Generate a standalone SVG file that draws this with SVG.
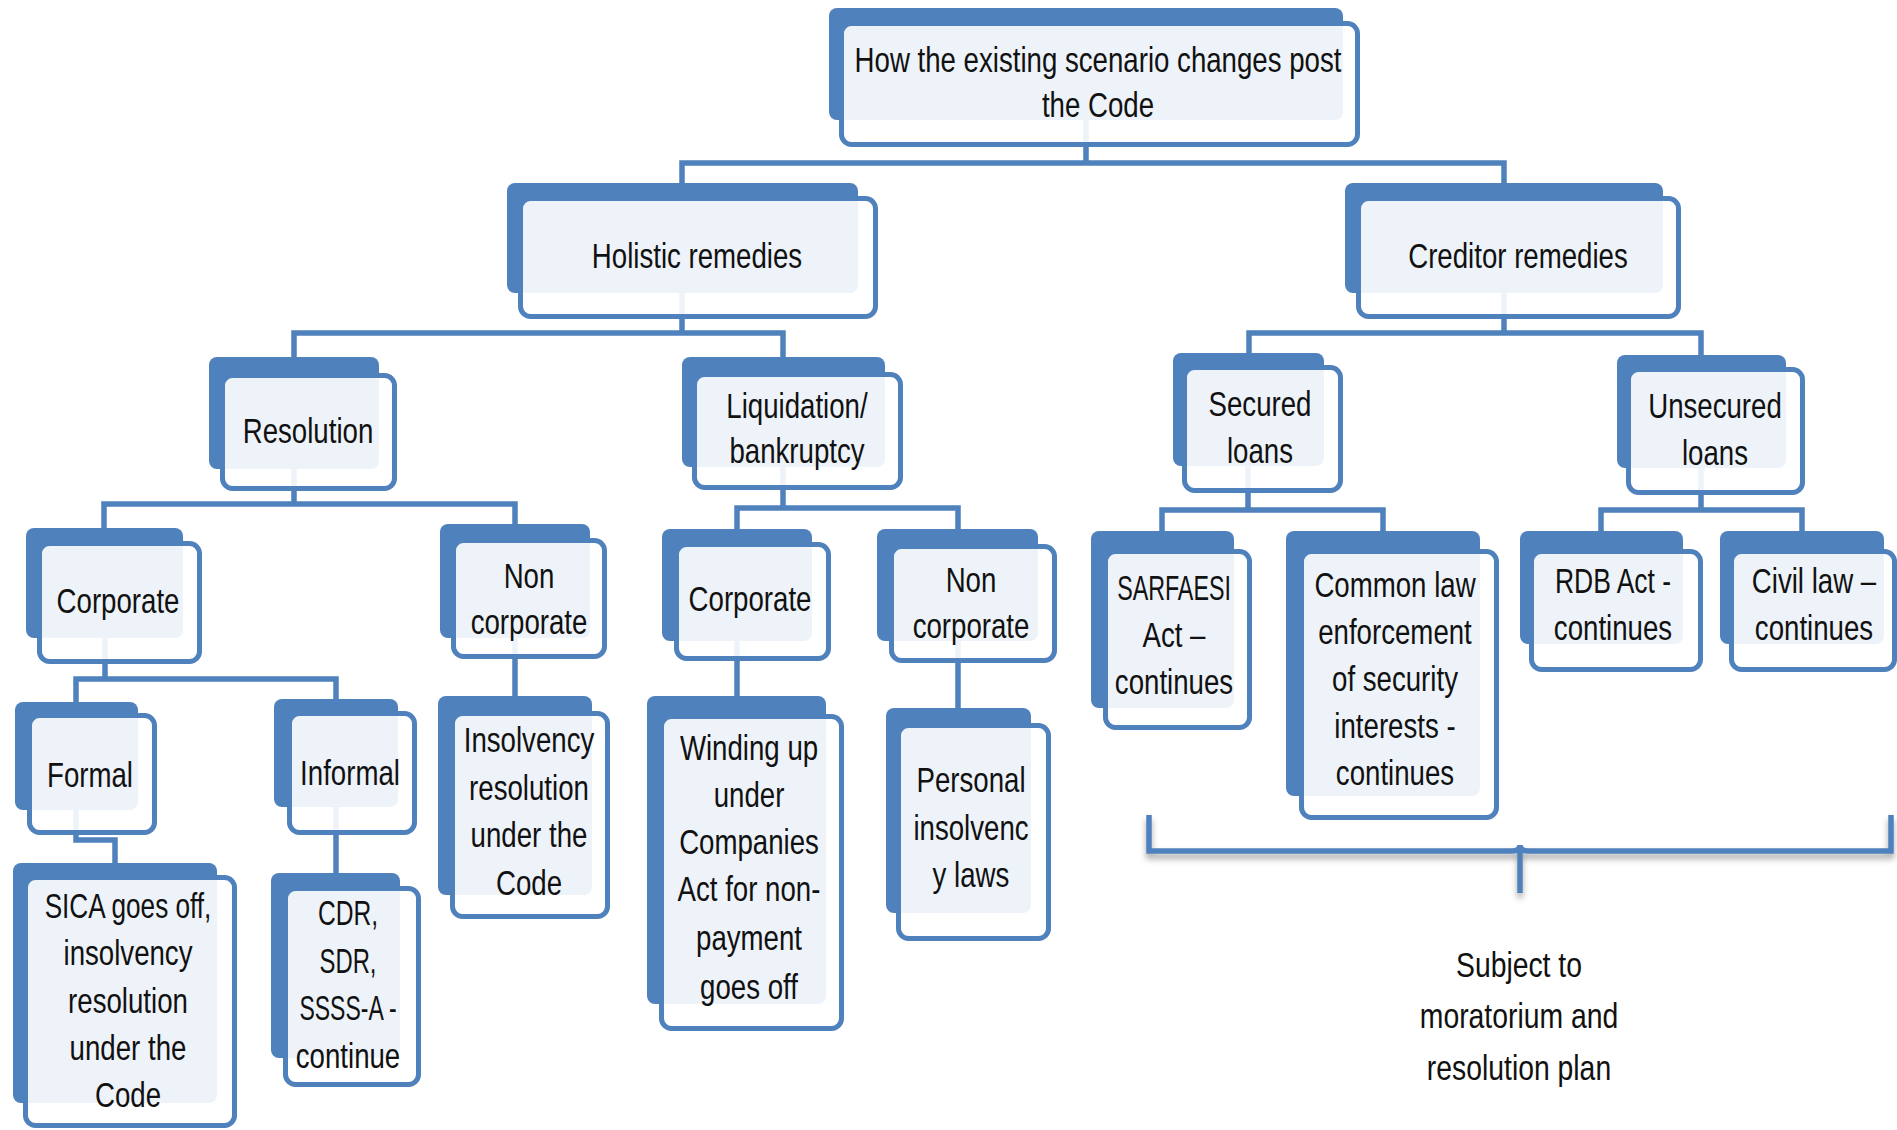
<svg xmlns="http://www.w3.org/2000/svg" width="1897" height="1130" viewBox="0 0 1897 1130">
  <style>
    .back { fill: #4F81BD; }
    .front { fill: #ffffff; fill-opacity: 0.9; stroke: #4F81BD; stroke-width: 5; }
    .link { fill: none; stroke: #4F81BD; stroke-width: 5.5; stroke-linejoin: miter; }
    .t { font-family: "Liberation Sans", Arial, sans-serif; font-size: 35px; fill: #111; text-anchor: middle; }
  </style>
  <defs>
    <filter id="soft" x="-5%" y="-20%" width="110%" height="160%">
      <feGaussianBlur in="SourceAlpha" stdDeviation="3"/>
      <feOffset dy="5" result="b"/>
      <feFlood flood-color="#000" flood-opacity="0.35"/>
      <feComposite in2="b" operator="in"/>
      <feMerge><feMergeNode/><feMergeNode in="SourceGraphic"/></feMerge>
    </filter>
  </defs>
  <rect width="1897" height="1130" fill="#ffffff"/>

  <!-- tree links: each starts at the parent's back-plate centre -->
  <g id="connectors" class="link">
    <path d="M1086 120V163"/>
    <path d="M682 183V163H1504V183"/>
    <path d="M682 293V333"/>
    <path d="M294 357V333H783V357"/>
    <path d="M1504 293V333"/>
    <path d="M1249 353V333H1701V355"/>
    <path d="M294 469V504"/>
    <path d="M104 528V504H515V524"/>
    <path d="M783 467V508"/>
    <path d="M737 529V508H958V529"/>
    <path d="M1248 466V510"/>
    <path d="M1162 531V510H1383V531"/>
    <path d="M1701 468V510"/>
    <path d="M1601 531V510H1802V531"/>
    <path d="M105 638V679"/>
    <path d="M76 702V679H336V699"/>
    <path d="M515 638V696"/>
    <path d="M737 641V696"/>
    <path d="M958 641V708"/>
    <path d="M76 810V840H115V863"/>
    <path d="M336 807V873"/>
  </g>

  <g id="n-root">
    <rect class="back" x="829" y="8" width="514" height="112" rx="8"/>
    <rect class="front" x="841.5" y="23.5" width="516" height="121" rx="10"/>
    <text class="t" transform="translate(1098 0) scale(0.79 1)"><tspan x="0" y="72">How the existing scenario changes post</tspan><tspan x="0" y="117">the Code</tspan></text>
  </g>

  <g id="n-holistic">
    <rect class="back" x="507" y="183" width="351" height="110" rx="8"/>
    <rect class="front" x="520.5" y="198.5" width="355" height="118" rx="10"/>
    <text class="t" transform="translate(697 0) scale(0.79 1)"><tspan x="0" y="268">Holistic remedies</tspan></text>
  </g>

  <g id="n-creditor">
    <rect class="back" x="1345" y="183" width="318" height="110" rx="8"/>
    <rect class="front" x="1358.5" y="198.5" width="320" height="118" rx="10"/>
    <text class="t" transform="translate(1518 0) scale(0.79 1)"><tspan x="0" y="268">Creditor remedies</tspan></text>
  </g>

  <g id="n-resolution">
    <rect class="back" x="209" y="357" width="170" height="112" rx="8"/>
    <rect class="front" x="222.5" y="375.5" width="172" height="113" rx="10"/>
    <text class="t" transform="translate(308 0) scale(0.79 1)"><tspan x="0" y="443">Resolution</tspan></text>
  </g>

  <g id="n-liquidation">
    <rect class="back" x="682" y="357" width="203" height="110" rx="8"/>
    <rect class="front" x="694.5" y="374.5" width="206" height="113" rx="10"/>
    <text class="t" transform="translate(797 0) scale(0.79 1)"><tspan x="0" y="418">Liquidation/</tspan><tspan x="0" y="463">bankruptcy</tspan></text>
  </g>

  <g id="n-secured">
    <rect class="back" x="1173" y="353" width="151" height="113" rx="8"/>
    <rect class="front" x="1184.5" y="367.5" width="156" height="123" rx="10"/>
    <text class="t" transform="translate(1260 0) scale(0.79 1)"><tspan x="0" y="416">Secured</tspan><tspan x="0" y="463">loans</tspan></text>
  </g>

  <g id="n-unsecured">
    <rect class="back" x="1617" y="355" width="169" height="113" rx="8"/>
    <rect class="front" x="1628.5" y="369.5" width="174" height="123" rx="10"/>
    <text class="t" transform="translate(1715 0) scale(0.79 1)"><tspan x="0" y="418">Unsecured</tspan><tspan x="0" y="465">loans</tspan></text>
  </g>

  <g id="n-res-corporate">
    <rect class="back" x="26" y="528" width="157" height="110" rx="8"/>
    <rect class="front" x="39.5" y="543.5" width="160" height="118" rx="10"/>
    <text class="t" transform="translate(118 0) scale(0.79 1)"><tspan x="0" y="613">Corporate</tspan></text>
  </g>

  <g id="n-res-noncorporate">
    <rect class="back" x="440" y="524" width="150" height="114" rx="8"/>
    <rect class="front" x="453.5" y="540.5" width="151" height="116" rx="10"/>
    <text class="t" transform="translate(529 0) scale(0.79 1)"><tspan x="0" y="588">Non</tspan><tspan x="0" y="634">corporate</tspan></text>
  </g>

  <g id="n-liq-corporate">
    <rect class="back" x="662" y="529" width="150" height="112" rx="8"/>
    <rect class="front" x="676.5" y="544.5" width="152" height="114" rx="10"/>
    <text class="t" transform="translate(750 0) scale(0.79 1)"><tspan x="0" y="611">Corporate</tspan></text>
  </g>

  <g id="n-liq-noncorporate">
    <rect class="back" x="877" y="529" width="161" height="112" rx="8"/>
    <rect class="front" x="891.5" y="546.5" width="163" height="114" rx="10"/>
    <text class="t" transform="translate(971 0) scale(0.79 1)"><tspan x="0" y="592">Non</tspan><tspan x="0" y="638">corporate</tspan></text>
  </g>

  <g id="n-sarfaesi">
    <rect class="back" x="1091" y="531" width="143" height="177" rx="8"/>
    <rect class="front" x="1105.5" y="551.5" width="144" height="176" rx="10"/>
    <text class="t" transform="translate(1174 0) scale(0.79 1)"><tspan x="0" y="600" textLength="144" lengthAdjust="spacingAndGlyphs">SARFAESI</tspan><tspan x="0" y="647">Act –</tspan><tspan x="0" y="694">continues</tspan></text>
  </g>

  <g id="n-common-law">
    <rect class="back" x="1286" y="531" width="194" height="265" rx="8"/>
    <rect class="front" x="1301.5" y="551.5" width="195" height="266" rx="10"/>
    <text class="t" transform="translate(1395 0) scale(0.79 1)"><tspan x="0" y="597">Common law</tspan><tspan x="0" y="644">enforcement</tspan><tspan x="0" y="691">of security</tspan><tspan x="0" y="738">interests -</tspan><tspan x="0" y="785">continues</tspan></text>
  </g>

  <g id="n-rdb">
    <rect class="back" x="1520" y="531" width="163" height="113" rx="8"/>
    <rect class="front" x="1531.5" y="551.5" width="169" height="118" rx="10"/>
    <text class="t" transform="translate(1613 0) scale(0.79 1)"><tspan x="0" y="593" textLength="147" lengthAdjust="spacingAndGlyphs">RDB Act -</tspan><tspan x="0" y="640">continues</tspan></text>
  </g>

  <g id="n-civil">
    <rect class="back" x="1720" y="531" width="164" height="113" rx="8"/>
    <rect class="front" x="1731.5" y="551.5" width="163" height="118" rx="10"/>
    <text class="t" transform="translate(1814 0) scale(0.79 1)"><tspan x="0" y="593">Civil law –</tspan><tspan x="0" y="640">continues</tspan></text>
  </g>

  <g id="n-formal">
    <rect class="back" x="15" y="702" width="123" height="108" rx="8"/>
    <rect class="front" x="29.5" y="715.5" width="125" height="117" rx="10"/>
    <text class="t" transform="translate(90 0) scale(0.79 1)"><tspan x="0" y="787">Formal</tspan></text>
  </g>

  <g id="n-informal">
    <rect class="back" x="274" y="699" width="124" height="108" rx="8"/>
    <rect class="front" x="289.5" y="713.5" width="125" height="119" rx="10"/>
    <text class="t" transform="translate(350 0) scale(0.79 1)"><tspan x="0" y="785">Informal</tspan></text>
  </g>

  <g id="n-insolvency">
    <rect class="back" x="438" y="696" width="154" height="199" rx="8"/>
    <rect class="front" x="452.5" y="713.5" width="155" height="203" rx="10"/>
    <text class="t" transform="translate(529 0) scale(0.79 1)"><tspan x="0" y="752">Insolvency</tspan><tspan x="0" y="800">resolution</tspan><tspan x="0" y="847">under the</tspan><tspan x="0" y="895">Code</tspan></text>
  </g>

  <g id="n-winding-up">
    <rect class="back" x="647" y="696" width="179" height="308" rx="8"/>
    <rect class="front" x="661.5" y="716.5" width="180" height="312" rx="10"/>
    <text class="t" transform="translate(749 0) scale(0.79 1)"><tspan x="0" y="760">Winding up</tspan><tspan x="0" y="807">under</tspan><tspan x="0" y="854">Companies</tspan><tspan x="0" y="901">Act for non-</tspan><tspan x="0" y="950">payment</tspan><tspan x="0" y="999">goes off</tspan></text>
  </g>

  <g id="n-personal">
    <rect class="back" x="886" y="708" width="145" height="205" rx="8"/>
    <rect class="front" x="898.5" y="725.5" width="150" height="213" rx="10"/>
    <text class="t" transform="translate(971 0) scale(0.79 1)"><tspan x="0" y="792">Personal</tspan><tspan x="0" y="840">insolvenc</tspan><tspan x="0" y="887">y laws</tspan></text>
  </g>

  <g id="n-sica">
    <rect class="back" x="13" y="863" width="204" height="240" rx="8"/>
    <rect class="front" x="25.5" y="877.5" width="209" height="248" rx="10"/>
    <text class="t" transform="translate(128 0) scale(0.79 1)"><tspan x="0" y="918" textLength="211" lengthAdjust="spacingAndGlyphs">SICA goes off,</tspan><tspan x="0" y="965">insolvency</tspan><tspan x="0" y="1013">resolution</tspan><tspan x="0" y="1060">under the</tspan><tspan x="0" y="1107">Code</tspan></text>
  </g>

  <g id="n-cdr">
    <rect class="back" x="271" y="873" width="129" height="185" rx="8"/>
    <rect class="front" x="285.5" y="888.5" width="133" height="196" rx="10"/>
    <text class="t" transform="translate(348 0) scale(0.79 1)"><tspan x="0" y="925" textLength="76" lengthAdjust="spacingAndGlyphs">CDR,</tspan><tspan x="0" y="973" textLength="72" lengthAdjust="spacingAndGlyphs">SDR,</tspan><tspan x="0" y="1020" textLength="123" lengthAdjust="spacingAndGlyphs">SSSS-A -</tspan><tspan x="0" y="1068">continue</tspan></text>
  </g>

  <!-- brace grouping the creditor remedies -->
  <g id="brace">
    <path class="link" filter="url(#soft)" d="M1149 815V851H1512Q1520 851 1520 845Q1520 851 1528 851H1891V815M1520 849V893"/>
    <text class="t" transform="translate(1519 0) scale(0.81 1)"><tspan x="0" y="977">Subject to</tspan><tspan x="0" y="1028">moratorium and</tspan><tspan x="0" y="1080">resolution plan</tspan></text>
  </g>
</svg>
